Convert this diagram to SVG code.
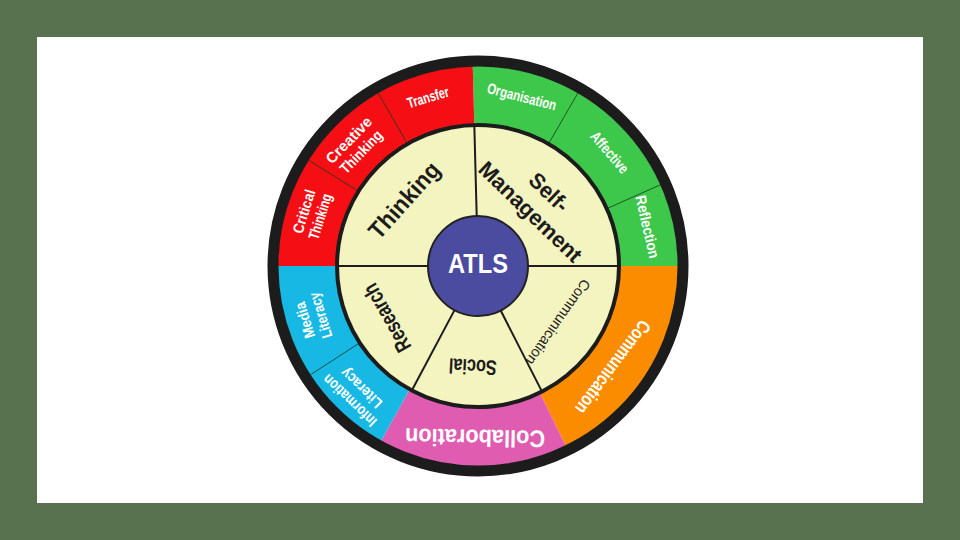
<svg xmlns="http://www.w3.org/2000/svg" width="960" height="540" viewBox="0 0 960 540">
<style>
.w{fill:#fff;font-family:"Liberation Sans",Arial,sans-serif;font-weight:bold;text-anchor:middle}
.k{fill:#1c1c1c;font-family:"Liberation Sans",Arial,sans-serif;font-weight:bold;text-anchor:middle}
.kn{fill:#1c1c1c;font-family:"Liberation Sans",Arial,sans-serif;font-weight:normal;text-anchor:middle}
.div{stroke:#1a3a1a;stroke-width:1;opacity:0.8}
.idiv{stroke:#1c1c1c;stroke-width:2}
</style>
<rect x="0" y="0" width="960" height="540" fill="#587250"/>
<rect x="37" y="37" width="886" height="466" fill="#ffffff"/>

<g id="outer-ring">
  <path id="seg-green" d="M478,266 L472.76,66.07 A200,200 0 0 1 678,266 Z" fill="#3ec84b"/>
  <path id="seg-orange" d="M478,266 L678,266 A200,200 0 0 1 565.67,445.76 Z" fill="#fb8c00"/>
  <path id="seg-pink" d="M478,266 L565.67,445.76 A200,200 0 0 1 381.04,440.92 Z" fill="#e05cb0"/>
  <path id="seg-cyan" d="M478,266 L381.04,440.92 A200,200 0 0 1 278,266 Z" fill="#17b8e3"/>
  <path id="seg-red" d="M478,266 L278,266 A200,200 0 0 1 472.76,66.07 Z" fill="#f50f14"/>
</g>

<g id="outer-dividers">
  <line class="div" x1="358.42" y1="191.28" x2="308.39" y2="160.02"/>
  <line class="div" x1="407.5" y1="143.89" x2="378" y2="92.79"/>
  <line class="div" x1="548.5" y1="143.89" x2="578" y2="92.79"/>
  <line class="div" x1="606.81" y1="208.65" x2="660.71" y2="184.65"/>
  <line class="div" x1="359.75" y1="342.79" x2="310.27" y2="374.93"/>
</g>

<circle id="rim" cx="478" cy="266" r="205" fill="none" stroke="#1c1c1c" stroke-width="11"/>
<circle id="inner-ring" cx="478" cy="266" r="141" fill="#f4f4c1" stroke="#1c1c1c" stroke-width="4"/>

<g id="connectors">
  <line class="idiv" x1="428" y1="266" x2="337" y2="266"/>
  <line class="idiv" x1="476.69" y1="216.02" x2="474.31" y2="125.05"/>
  <line class="idiv" x1="528" y1="266" x2="619" y2="266"/>
  <line class="idiv" x1="500.70" y1="310.55" x2="542.01" y2="391.63"/>
  <line class="idiv" x1="454.53" y1="310.15" x2="411.80" y2="390.50"/>
</g>

<g id="atls">
  <circle cx="478" cy="266" r="50" fill="#4b4ba0" stroke="#222" stroke-width="2"/>
  <text class="w" x="478" y="273" font-size="27" textLength="60" lengthAdjust="spacingAndGlyphs">ATLS</text>
</g>

<!-- outer labels -->
<g id="transfer" transform="translate(478,266) rotate(-16.5)">
  <text class="w" x="0" y="-176" dy="0.35em" font-size="15" textLength="43" lengthAdjust="spacingAndGlyphs">Transfer</text>
</g>
<g id="creative-thinking" transform="translate(478,266) rotate(-45.7)">
  <text class="w" x="0" y="-180.5" dy="0.35em" font-size="15" textLength="59" lengthAdjust="spacingAndGlyphs">Creative</text>
  <text class="w" x="0" y="-163.5" dy="0.35em" font-size="15" textLength="54" lengthAdjust="spacingAndGlyphs">Thinking</text>
</g>
<g id="critical-thinking" transform="translate(478,266) rotate(-72.6)">
  <text class="w" x="0" y="-182.5" dy="0.35em" font-size="15" textLength="45" lengthAdjust="spacingAndGlyphs">Critical</text>
  <text class="w" x="0" y="-165.5" dy="0.35em" font-size="15" textLength="47" lengthAdjust="spacingAndGlyphs">Thinking</text>
</g>
<g id="organisation" transform="translate(478,266) rotate(14.5)">
  <text class="w" x="0" y="-175" dy="0.35em" font-size="15" textLength="71" lengthAdjust="spacingAndGlyphs">Organisation</text>
</g>
<g id="affective" transform="translate(478,266) rotate(49.2)">
  <text class="w" x="0" y="-174" dy="0.35em" font-size="15" textLength="50" lengthAdjust="spacingAndGlyphs">Affective</text>
</g>
<g id="reflection" transform="translate(478,266) rotate(77)">
  <text class="w" x="0" y="-174" dy="0.35em" font-size="15" textLength="64" lengthAdjust="spacingAndGlyphs">Reflection</text>
</g>
<g id="media-literacy" transform="translate(478,266) rotate(252.6)">
  <text class="w" x="0" y="-181.5" dy="0.35em" font-size="15" textLength="37" lengthAdjust="spacingAndGlyphs">Media</text>
  <text class="w" x="0" y="-165" dy="0.35em" font-size="15" textLength="47" lengthAdjust="spacingAndGlyphs">Literacy</text>
</g>
<g id="information-literacy" transform="translate(478,266) rotate(223.7)">
  <text class="w" x="0" y="-186" dy="0.35em" font-size="15" textLength="68" lengthAdjust="spacingAndGlyphs">Information</text>
  <text class="w" x="0" y="-169" dy="0.35em" font-size="15" textLength="51" lengthAdjust="spacingAndGlyphs">Literacy</text>
</g>
<g id="communication-outer" transform="translate(478,266) rotate(126.8)">
  <text class="w" x="0" y="-169" dy="0.35em" font-size="19" textLength="112" lengthAdjust="spacingAndGlyphs">Communication</text>
</g>
<g id="collaboration" transform="translate(478,266) rotate(181)">
  <text class="w" x="0" y="-172" dy="0.35em" font-size="24" textLength="140" lengthAdjust="spacingAndGlyphs">Collaboration</text>
</g>

<!-- inner labels -->
<g id="thinking" transform="translate(478,266) rotate(-48.3)">
  <text class="k" x="0" y="-99" dy="0.35em" font-size="24" textLength="94" lengthAdjust="spacingAndGlyphs">Thinking</text>
</g>
<g id="self-management" transform="translate(478,266) rotate(44)">
  <text class="k" x="0" y="-102.5" dy="0.35em" font-size="22" textLength="46" lengthAdjust="spacingAndGlyphs">Self-</text>
  <text class="k" x="0" y="-75.5" dy="0.35em" font-size="22" textLength="134" lengthAdjust="spacingAndGlyphs">Management</text>
</g>
<g id="research" transform="translate(478,266) rotate(240.3)">
  <text class="k" x="0" y="-105" dy="0.35em" font-size="22" textLength="75" lengthAdjust="spacingAndGlyphs">Research</text>
</g>
<g id="social" transform="translate(478,266) rotate(183)">
  <text class="k" x="0" y="-101" dy="0.35em" font-size="21" textLength="48" lengthAdjust="spacingAndGlyphs">Social</text>
</g>
<g id="communication-inner" transform="translate(478,266) rotate(125)">
  <text class="kn" x="0" y="-98" dy="0.35em" font-size="14.5">Communication</text>
</g>
</svg>
